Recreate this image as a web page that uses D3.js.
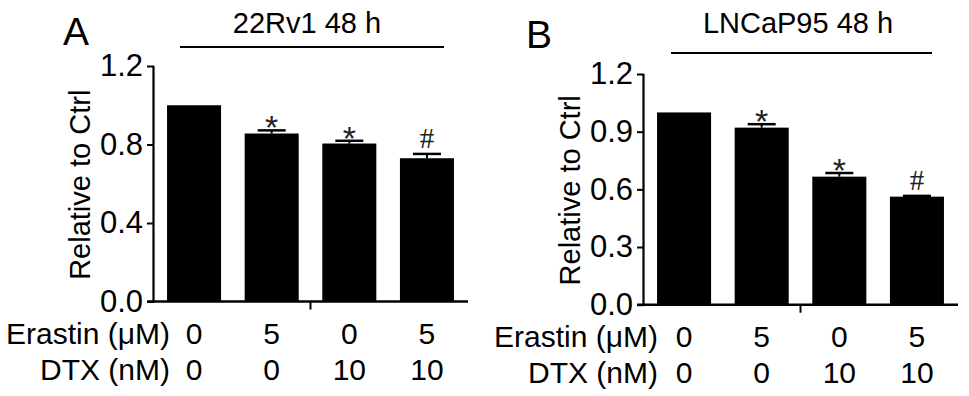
<!DOCTYPE html>
<html>
<head>
<meta charset="utf-8">
<script src="https://cdn.jsdelivr.net/npm/d3@7"></script>
<style>
  body { margin: 0; background: #fff; }
  svg { display: block; font-family: "Liberation Sans", Arial, sans-serif; }
</style>
</head>
<body>
<div id="chart"></div>
<script>
// values
const groups = ['g1', 'g2', 'g3', 'g4'];
const erastinLabels = ['0', '5', '0', '5'];
const dtxLabels = ['0', '0', '10', '10'];
const marks = ['', '*', '*', '#'];

const meanA = [1.0, 0.856, 0.805, 0.730];
const semA = [0, 0.016, 0.014, 0.022];
const ticksA = [0, 0.4, 0.8, 1.2];

const meanB = [1.0, 0.921, 0.666, 0.562];
const semB = [0, 0.018, 0.019, 0.004];
const ticksB = [0, 0.3, 0.6, 0.9, 1.2];

const svg = d3.select('#chart').append('svg')
    .attr('width', 969)
    .attr('height', 396);

function drawPanel(cfg) {
  const g = svg.append('g');

  const x = d3.scaleBand()
      .domain(groups)
      .range([cfg.left, cfg.right])
      .paddingInner(0.304)
      .paddingOuter(0.168);

  const y = d3.scaleLinear()
      .domain([0, 1.2])
      .range([cfg.bottom, cfg.top]);

  // panel letter
  g.append('text')
      .attr('x', cfg.letterX)
      .attr('y', cfg.letterY)
      .attr('font-size', 39)
      .text(cfg.letter);

  // title + bar under it
  g.append('text')
      .attr('x', cfg.titleX)
      .attr('y', 33)
      .attr('text-anchor', 'middle')
      .attr('font-size', 29)
      .text(cfg.title);
  g.append('line')
      .attr('x1', cfg.lineX1).attr('x2', cfg.lineX2)
      .attr('y1', cfg.lineY).attr('y2', cfg.lineY)
      .attr('stroke', '#000')
      .attr('stroke-width', 2.2);

  // bars
  g.selectAll('rect.bar')
      .data(cfg.mean)
      .enter().append('rect')
      .attr('class', 'bar')
      .attr('x', (d, i) => x(groups[i]))
      .attr('width', x.bandwidth())
      .attr('y', d => y(d))
      .attr('height', d => y(0) - y(d))
      .attr('fill', '#000');

  // error bars (upper half only shows)
  const cx = i => x(groups[i]) + x.bandwidth() / 2;
  cfg.sem.forEach((s, i) => {
    if (s <= 0) return;
    const top = y(cfg.mean[i] + s);
    g.append('line')
        .attr('x1', cx(i)).attr('x2', cx(i))
        .attr('y1', y(cfg.mean[i])).attr('y2', top)
        .attr('stroke', '#000').attr('stroke-width', 2);
    g.append('line')
        .attr('x1', cx(i) - 14).attr('x2', cx(i) + 14)
        .attr('y1', top).attr('y2', top)
        .attr('stroke', '#000').attr('stroke-width', 2.5);
  });

  // significance marks
  marks.forEach((m, i) => {
    if (!m) return;
    const top = y(cfg.mean[i] + cfg.sem[i]);
    const star = m === '*';
    g.append('text')
        .attr('x', cx(i))
        .attr('y', star ? top + 9 : top - 6)
        .attr('text-anchor', 'middle')
        .attr('font-family', star ? '"Liberation Sans", Arial, sans-serif' : '"Liberation Serif", "Times New Roman", serif')
        .attr('font-size', star ? 34 : 29)
        .attr('fill', '#222')
        .text(m);
  });

  // y axis
  const yAxis = g.append('g')
      .attr('transform', `translate(${cfg.left},0)`)
      .call(d3.axisLeft(y).tickValues(cfg.ticks).tickFormat(d3.format('.1f')).tickSize(7).tickPadding(4));
  yAxis.select('.domain').attr('d', `M-0.5,${cfg.top}V${cfg.bottom}`).attr('stroke-width', 2.2);
  yAxis.selectAll('.tick line').attr('stroke-width', 2);
  yAxis.selectAll('.tick text')
      .attr('font-size', 31)
      .attr('font-family', '"Liberation Sans", Arial, sans-serif')
      .attr('fill', '#000');

  // x axis baseline + middle separator tick
  g.append('line')
      .attr('x1', cfg.left - 7).attr('x2', cfg.right + 1)
      .attr('y1', cfg.bottom).attr('y2', cfg.bottom)
      .attr('stroke', '#000').attr('stroke-width', 2.6);
  const mid = (x(groups[1]) + x.bandwidth() + x(groups[2])) / 2;
  g.append('line')
      .attr('x1', mid).attr('x2', mid)
      .attr('y1', cfg.bottom).attr('y2', cfg.bottom + 8)
      .attr('stroke', '#000').attr('stroke-width', 2);

  // y title
  g.append('text')
      .attr('transform', `translate(${cfg.yTitleX},${(cfg.top + cfg.bottom) / 2 + 1}) rotate(-90)`)
      .attr('text-anchor', 'middle')
      .attr('font-size', 29)
      .text('Relative to Ctrl');

  // treatment rows
  const rows = [
    { name: 'Erastin (\u03bcM)', vals: erastinLabels, y: cfg.bottom + 42 },
    { name: 'DTX (nM)', vals: dtxLabels, y: cfg.bottom + 78 }
  ];
  rows.forEach(r => {
    g.append('text')
        .attr('x', cfg.rowLabelX)
        .attr('y', r.y)
        .attr('text-anchor', 'end')
        .attr('font-size', 30)
        .text(r.name);
    g.selectAll(null)
        .data(r.vals)
        .enter().append('text')
        .attr('x', (d, i) => cx(i))
        .attr('y', r.y)
        .attr('text-anchor', 'middle')
        .attr('font-size', 30)
        .text(d => d);
  });
}

drawPanel({
  letter: 'A', letterX: 63, letterY: 45,
  title: '22Rv1 48 h', titleX: 307,
  lineX1: 180, lineX2: 444, lineY: 47,
  left: 154, right: 467, top: 66, bottom: 301.5,
  mean: meanA, sem: semA, ticks: ticksA,
  yTitleX: 90, rowLabelX: 170
});

drawPanel({
  letter: 'B', letterX: 526, letterY: 48,
  title: 'LNCaP95 48 h', titleX: 798,
  lineX1: 671, lineX2: 932, lineY: 53,
  left: 644, right: 957, top: 74, bottom: 304.7,
  mean: meanB, sem: semB, ticks: ticksB,
  yTitleX: 580, rowLabelX: 658
});
</script>
</body>
</html>
